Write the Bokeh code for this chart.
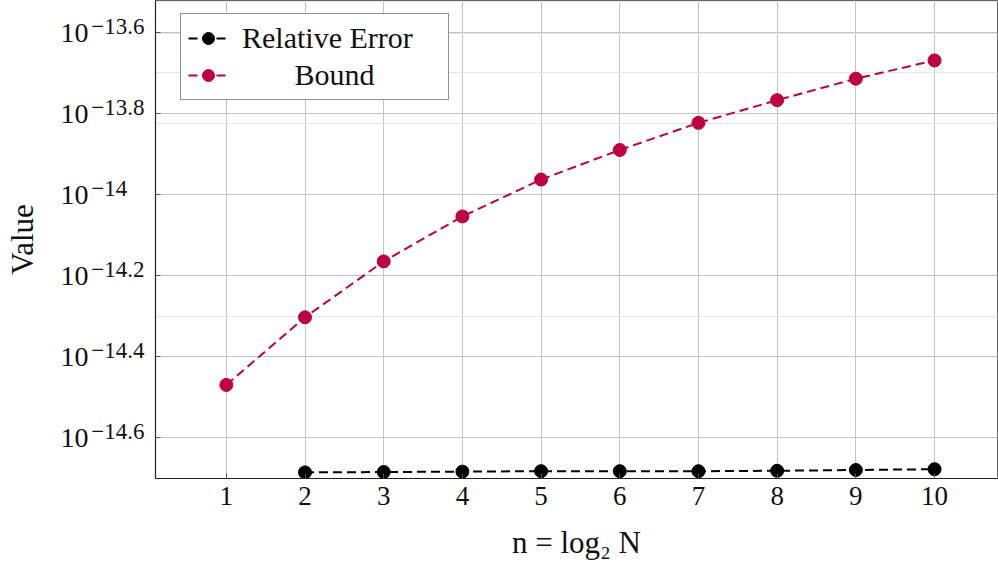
from bokeh.plotting import figure
from bokeh.models import (Range1d, FixedTicker, LogAxis, LogScale, Grid, Legend,
                          LegendItem, CustomJSTickFormatter)
from bokeh.embed import file_html
from bokeh.resources import INLINE

# ---- data ----
n_bound = [1, 2, 3, 4, 5, 6, 7, 8, 9, 10]
bound = [3.388e-15, 4.977e-15, 6.839e-15, 8.83e-15, 1.089e-14,
         1.288e-14, 1.503e-14, 1.710e-14, 1.932e-14, 2.143e-14]
n_err = [2, 3, 4, 5, 6, 7, 8, 9, 10]
rel_err = [2.061e-15, 2.065e-15, 2.070e-15, 2.075e-15, 2.075e-15,
           2.075e-15, 2.080e-15, 2.089e-15, 2.099e-15]
x_ticks = [1, 2, 3, 4, 5, 6, 7, 8, 9, 10]
y_tick_exps = [-14.6, -14.4, -14.2, -14.0, -13.8, -13.6]
y_tick_exp_labels = ["\u221214.6", "\u221214.4", "\u221214.2", "\u221214", "\u221213.8", "\u221213.6"]
y_min_exp, y_max_exp = -14.701, -13.521
x_min, x_max = 0.1, 10.8
series_names = ["Relative Error", "Bound"]

FONT = "Liberation Serif"
BOUND_COLOR = "#BF0040"
TEXT = "#111111"

y_ticks = [10 ** e for e in y_tick_exps]

# small vertical shifts (in decades) so the exponent sits raised and "10" a bit low
EXP_SHIFT = 0.016
BASE_SHIFT = -0.0015

p = figure(width=998, height=568, y_axis_type="log", y_axis_location=None,
           x_range=Range1d(x_min, x_max),
           y_range=Range1d(10 ** y_min_exp, 10 ** y_max_exp),
           extra_y_ranges={
               "exp": Range1d(10 ** (y_min_exp - EXP_SHIFT), 10 ** (y_max_exp - EXP_SHIFT)),
               "base": Range1d(10 ** (y_min_exp - BASE_SHIFT), 10 ** (y_max_exp - BASE_SHIFT)),
           },
           extra_y_scales={"exp": LogScale(), "base": LogScale()},
           output_backend="svg", toolbar_location=None,
           min_border_left=155, min_border_right=1,
           min_border_top=0, min_border_bottom=90)
p.background_fill_color = "white"
p.border_fill_color = "white"
p.outline_line_color = "#666666"
p.outline_line_width = 1

# x axis
xa = p.xaxis[0]
xa.ticker = FixedTicker(ticks=x_ticks)
xa.axis_line_color = "#222222"
xa.axis_line_width = 1.2
xa.major_tick_in = 5
xa.major_tick_out = 0
xa.major_tick_line_color = "#555555"
xa.minor_tick_line_color = None
xa.major_label_text_font = FONT
xa.major_label_text_font_size = "27px"
xa.major_label_text_color = TEXT
xa.major_label_standoff = 8
xa.axis_label = "n = log\u2082 N"
xa.axis_label_text_font = FONT
xa.axis_label_text_font_style = "normal"
xa.axis_label_text_font_size = "31px"
xa.axis_label_text_color = TEXT
xa.axis_label_standoff = 17

# y axis line + inward ticks (no labels)
ya = LogAxis(ticker=FixedTicker(ticks=y_ticks),
             formatter=CustomJSTickFormatter(code="return '';"))
ya.axis_line_color = "#222222"
ya.axis_line_width = 1.2
ya.major_tick_in = 5
ya.major_tick_out = 0
ya.major_tick_line_color = "#555555"
ya.minor_tick_line_color = None
ya.major_label_standoff = 0
ya.major_label_text_font_size = "1px"
p.add_layout(ya, "left")

# exponents (raised), padded to equal width so they hug the base
pad = {"\u221214": "\u00a0\u00a0\u00a0"}
ye = LogAxis(y_range_name="exp", ticker=FixedTicker(ticks=y_ticks))
ye.major_label_overrides = {t: lab + pad.get(lab, "") for t, lab in zip(y_ticks, y_tick_exp_labels)}
ye.axis_line_color = None
ye.major_tick_in = 0
ye.major_tick_out = 0
ye.minor_tick_line_color = None
ye.major_label_text_font = FONT
ye.major_label_text_font_size = "23px"
ye.major_label_text_color = TEXT
ye.major_label_standoff = 11
p.add_layout(ye, "left")

# base "10"
yb = LogAxis(y_range_name="base", ticker=FixedTicker(ticks=y_ticks))
yb.major_label_overrides = {t: "10" for t in y_ticks}
yb.axis_line_color = None
yb.major_tick_in = 0
yb.major_tick_out = 0
yb.minor_tick_line_color = None
yb.major_label_text_font = FONT
yb.major_label_text_font_size = "28px"
yb.major_label_text_color = TEXT
yb.major_label_standoff = 0
yb.axis_label = "Value"
yb.axis_label_text_font = FONT
yb.axis_label_text_font_style = "normal"
yb.axis_label_text_font_size = "31px"
yb.axis_label_text_color = TEXT
yb.axis_label_standoff = 18
p.add_layout(yb, "left")

p.add_layout(Grid(dimension=1, ticker=FixedTicker(ticks=y_ticks),
                  grid_line_color="#c4c4c4", grid_line_width=1))
p.xgrid.grid_line_color = "#c4c4c4"
p.xgrid.grid_line_width = 1

# series
l1 = p.line(n_err, rel_err, line_color="black", line_width=2, line_dash="9 5")
c1 = p.scatter(n_err, rel_err, size=13, marker="circle", fill_color="black", line_color="black")
l2 = p.line(n_bound, bound, line_color=BOUND_COLOR, line_width=2, line_dash="9 5")
c2 = p.scatter(n_bound, bound, size=13, marker="circle", fill_color=BOUND_COLOR, line_color=BOUND_COLOR)

legend = Legend(items=[LegendItem(label=series_names[0], renderers=[l1, c1]),
                       LegendItem(label="\u00a0" * 7 + series_names[1], renderers=[l2, c2])],
                location=(25, 378), margin=0, padding=7, spacing=3,
                glyph_width=40, glyph_height=30, label_height=30, label_width=199,
                label_standoff=14,
                label_text_font=FONT, label_text_font_size="30px", label_text_color=TEXT,
                border_line_color="#222222", border_line_width=1,
                background_fill_color="white", background_fill_alpha=1.0)
p.add_layout(legend)

open("out.html", "w").write(file_html(p, INLINE))
